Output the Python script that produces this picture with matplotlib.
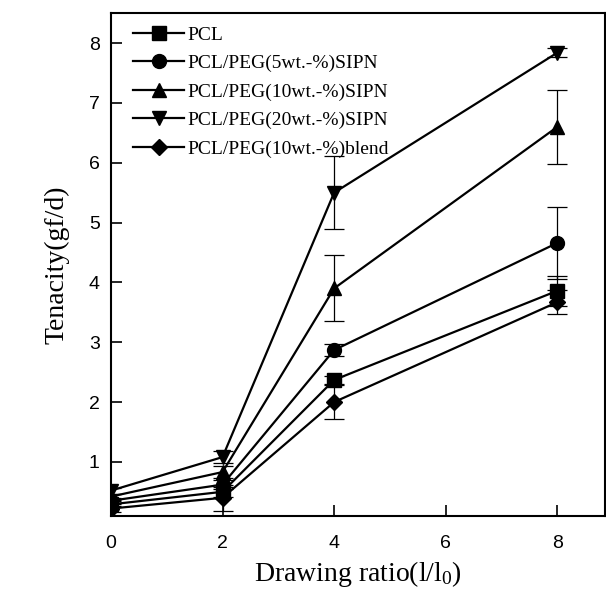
import matplotlib.pyplot as plt

plt.rcParams["mathtext.fontset"] = "custom"
plt.rcParams["mathtext.rm"] = "Liberation Serif"
plt.rcParams["mathtext.it"] = "Liberation Serif"

# drawing ratio
x = [0, 2, 4, 8]

labels = ["PCL", "PCL/PEG(5wt.-%)SIPN", "PCL/PEG(10wt.-%)SIPN",
          "PCL/PEG(20wt.-%)SIPN", "PCL/PEG(10wt.-%)blend"]
markers = ["s", "o", "^", "v", "D"]

pcl       = [0.29, 0.50, 2.37, 3.86]
sipn5     = [0.35, 0.62, 2.87, 4.66]
sipn10    = [0.42, 0.83, 3.90, 6.60]
sipn20    = [0.52, 1.08, 5.50, 7.84]
blend10   = [0.22, 0.40, 2.00, 3.67]

pcl_err     = [0.05, 0.08, 0.07, 0.25]
sipn5_err   = [0.05, 0.08, 0.10, 0.60]
sipn10_err  = [0.05, 0.10, 0.55, 0.62]
sipn20_err  = [0.05, 0.10, 0.61, 0.07]
blend10_err = [0.05, 0.22, 0.28, 0.20]

series = [pcl, sipn5, sipn10, sipn20, blend10]
errors = [pcl_err, sipn5_err, sipn10_err, sipn20_err, blend10_err]

fig = plt.figure(figsize=(6.06, 5.99), dpi=100)
ax = fig.add_axes([0.183, 0.139, 0.815, 0.839])

handles = []
for y, e, m in zip(series, errors, markers):
    c = ax.errorbar(x, y, yerr=e, color="black", marker=m,
                    markersize=10 if m != "D" else 8.5,
                    linewidth=1.6, elinewidth=0.9, capsize=7.5, capthick=0.9)
    handles.append(c.lines[0])

ax.set_xlim(0, 8.85)
ax.set_ylim(0.1, 8.5)
ax.set_xticks([0, 2, 4, 6, 8])
ax.set_yticks(range(1, 9))
ax.tick_params(direction="in", length=8, width=1.2, labelsize=14)
ax.tick_params(axis="x", pad=14)
ax.tick_params(axis="y", pad=8)
for lbl in ax.get_xticklabels() + ax.get_yticklabels():
    lbl.set_family("Liberation Sans")
for s in ax.spines.values():
    s.set_linewidth(1.5)

ax.set_xlabel("Drawing ratio(l/l$_0$)", family="Liberation Serif", fontsize=20, labelpad=5)
ax.set_ylabel("Tenacity(gf/d)", family="Liberation Serif", fontsize=20, labelpad=14)

ax.legend(handles, labels, loc="upper left", frameon=False,
          prop={"family": "Liberation Serif", "size": 14},
          handlelength=2.6, handletextpad=0.15, labelspacing=0.56,
          borderaxespad=0.0, bbox_to_anchor=(0.03, 0.99))

fig.savefig("out.png", dpi=100)
